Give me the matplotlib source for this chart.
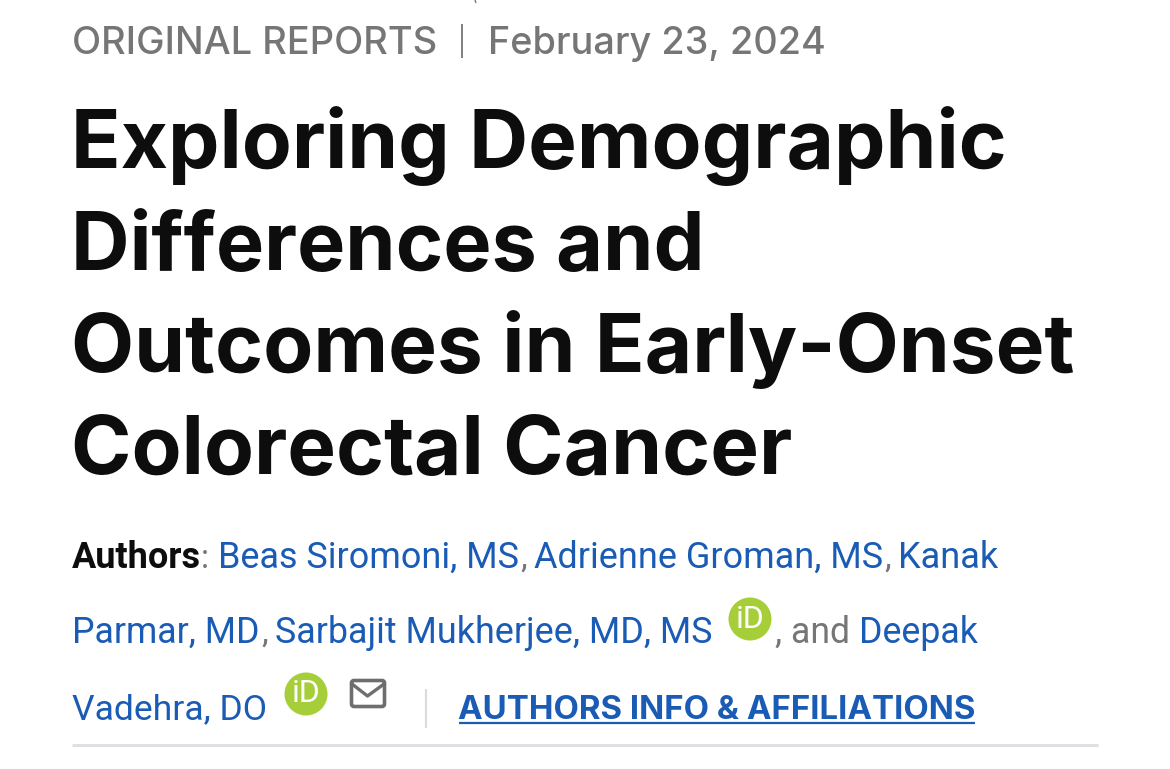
import matplotlib
matplotlib.use("Agg")
import matplotlib.pyplot as plt
from matplotlib.patches import Circle, FancyBboxPatch

W, H = 1170, 769
FONT = "Inter"
BODY = "Roboto"
BLUE = "#1a5bb5"
GREY = "#767676"
BLACK = "#0d0d0d"

eyebrow = ["ORIGINAL REPORTS", "February 23, 2024"]
title_lines = ["Exploring Demographic", "Differences and", "Outcomes in Early-Onset", "Colorectal Cancer"]
title_y = [168, 270, 372, 474]
title_widths = [935, 634, 1003, 721]

# (x, baseline y, pixel width or None, text, colour, weight)
author_runs = [
    (72, 568, 129, "Authors", BLACK, "bold"),
    (201, 568, None, ":", GREY, "normal"),
    (218, 568, 301, "Beas Siromoni, MS", BLUE, "normal"),
    (520, 568, None, ",", GREY, "normal"),
    (534, 568, 349, "Adrienne Groman, MS", BLUE, "normal"),
    (884, 568, None, ",", GREY, "normal"),
    (898, 568, 100, "Kanak", BLUE, "normal"),
    (72, 643, 188, "Parmar, MD", BLUE, "normal"),
    (261, 643, None, ",", GREY, "normal"),
    (275, 643, 437, "Sarbajit Mukherjee, MD, MS", BLUE, "normal"),
    (775, 643, 75, ", and", GREY, "normal"),
    (859, 643, 119, "Deepak", BLUE, "normal"),
    (72, 719, 195, "Vadehra, DO", BLUE, "normal"),
]
orcid_centres = [(750, 619), (306, 694)]
link_text = "AUTHORS INFO & AFFILIATIONS"

fig = plt.figure(figsize=(W / 100, H / 100), dpi=100, facecolor="white")
ax = fig.add_axes([0, 0, 1, 1])
ax.set_xlim(0, W)
ax.set_ylim(H, 0)
ax.axis("off")


def put(x, y, s, size, color, weight="normal", family=FONT):
    return ax.text(x, y, s, fontsize=size, color=color, fontweight=weight,
                   family=family, ha="left", va="baseline")


def fit(t, width):
    r = fig.canvas.get_renderer()
    w = t.get_window_extent(r).width
    t.set_fontsize(t.get_fontsize() * width / w)


# stray mark at the top edge
ax.plot([475, 476], [0, 3], color="#777777", lw=1, solid_capstyle="butt")

# eyebrow
fit(put(72, 54, eyebrow[0], 25, GREY, "medium"), 364)
ax.plot([462, 462], [24, 58], color="#808080", lw=1.4, solid_capstyle="butt")
fit(put(488, 54, eyebrow[1], 25, GREY, "medium"), 337)

# title
for s, y, w in zip(title_lines, title_y, title_widths):
    fit(put(71, y, s, 61, BLACK, "bold"), w)

# authors
for x, y, w, s, c, wt in author_runs:
    t = put(x, y, s, 24, c, wt, BODY)
    if w:
        fit(t, w)

# ORCID badges
for cx, cy in orcid_centres:
    ax.add_patch(Circle((cx, cy), 21.5, facecolor="#a6ce39", edgecolor="none"))
    ax.text(cx, cy, "iD", color="white", fontsize=23, family=BODY,
            fontweight="normal", ha="center", va="center")

# envelope
ax.add_patch(FancyBboxPatch((351.5, 680.5), 33, 26, boxstyle="round,pad=0,rounding_size=2.5",
                            facecolor="none", edgecolor="#6e6e6e", lw=2.6))
ax.plot([352, 367.5, 384], [684, 696, 684], color="#6e6e6e", lw=2.4)

# separator + link
ax.plot([426, 426], [689, 728], color="#dcdcdc", lw=1.6, solid_capstyle="butt")
fit(put(458, 719, link_text, 22, BLUE, "bold"), 518)
ax.plot([459, 975], [723, 723], color=BLUE, lw=1.6, solid_capstyle="butt")

# bottom rule
ax.plot([72, 1098], [744.5, 744.5], color="#e0e0e4", lw=2.2, solid_capstyle="butt")

fig.savefig("out.png", dpi=100, facecolor="white")
